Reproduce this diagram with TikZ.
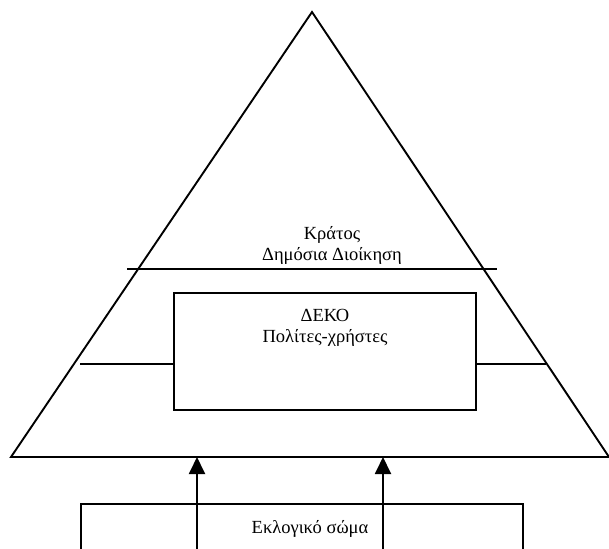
\documentclass[tikz,border=0pt]{standalone}
\usepackage{fontspec}
\setmainfont{Liberation Serif}
\usetikzlibrary{arrows.meta}
\begin{document}
\begin{tikzpicture}[x=1pt,y=-1pt,
  line/.style={draw=black,line width=1.9pt},
  lbl/.style={font=\fontsize{18.5}{21}\selectfont,align=center,inner sep=0pt},
  uparrow/.style={line width=1.9pt,-{Triangle[length=17pt,width=16pt]}}]
\useasboundingbox (0,0) rectangle (609,548);
% triangle
\coordinate (apex) at (312,12);
\coordinate (bl) at (11,457);
\coordinate (br) at (609,457);
\draw[line,line join=miter] (bl) -- (apex) -- (br) -- cycle;
% upper divider
\coordinate (u1) at (127,269);
\coordinate (u2) at (497,269);
\draw[line] (u1) -- (u2);
\node[lbl] (state) at (332,245) {Κράτος\\Δημόσια Διοίκηση};
% inner box
\node[line,minimum width=302pt,minimum height=117pt,inner sep=0pt] (deko) at (325,351.5) {};
\node[lbl] (dekotxt) at (325,328) {ΔΕΚΟ\\Πολίτες-χρήστες};
\coordinate (l1) at (80,364);
\coordinate (r1) at (546,364);
\draw[line] (l1) -- (deko.west |- l1);
\draw[line] (deko.east |- r1) -- (r1);
% bottom box
\coordinate (b1) at (81,560);
\coordinate (b2) at (523,504);
\draw[line] (b1) -- (81,504) -- (b2) -- (523,560);
\node[lbl] (elect) at (310,529) {Εκλογικό σώμα};
% arrows
\coordinate (a1s) at (197,560);
\coordinate (a1e) at (197,457);
\coordinate (a2s) at (383,560);
\coordinate (a2e) at (383,457);
\draw[uparrow] (a1s) -- (a1e);
\draw[uparrow] (a2s) -- (a2e);
\end{tikzpicture}
\end{document}
